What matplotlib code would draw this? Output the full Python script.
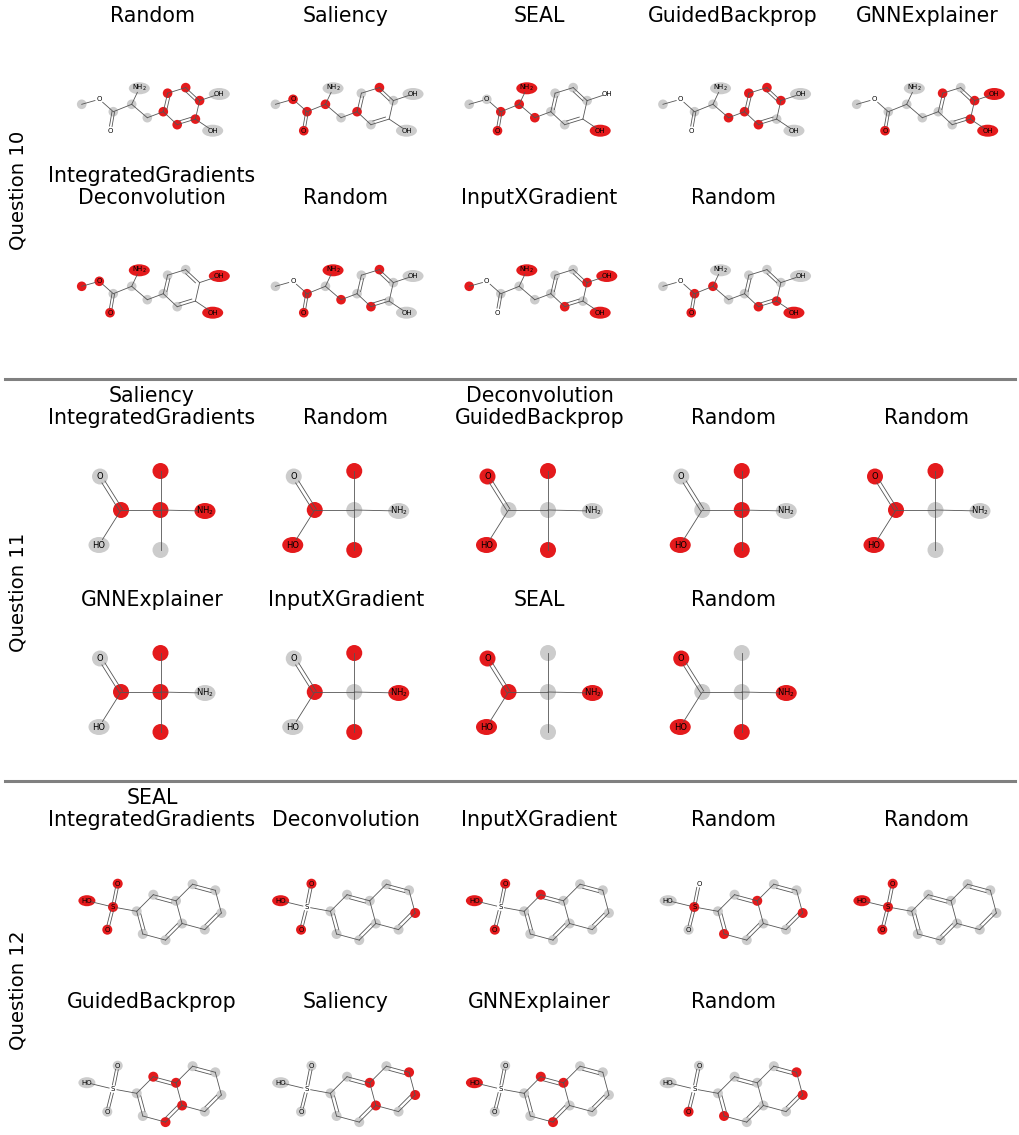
import numpy as np
import matplotlib
matplotlib.use('Agg')
import matplotlib.pyplot as plt
from matplotlib.patches import Circle, Ellipse
from matplotlib.lines import Line2D

W, H = 1020, 1135
RED = '#e41a1c'
GREY = '#cccccc'
BOND = '#555555'

# ---- titles per panel (one list per row) ----
q10_titles_a = ['Random', 'Saliency', 'SEAL', 'GuidedBackprop', 'GNNExplainer']
q10_titles_b = ['IntegratedGradients\nDeconvolution', 'Random', 'InputXGradient', 'Random']
q11_titles_a = ['Saliency\nIntegratedGradients', 'Random', 'Deconvolution\nGuidedBackprop', 'Random', 'Random']
q11_titles_b = ['GNNExplainer', 'InputXGradient', 'SEAL', 'Random']
q12_titles_a = ['SEAL\nIntegratedGradients', 'Deconvolution', 'InputXGradient', 'Random', 'Random']
q12_titles_b = ['GuidedBackprop', 'Saliency', 'GNNExplainer', 'Random']

# ---- atom highlight per panel: r = important, g = low, n = none ----
# Q10 atoms: Me, O, C, O=, Ca, N, Cb, C1, C2, C3, C4, O(H), C5, O(H), C6
q10_marks_a = ['gngngggrrrrgrgr', 'grrrrggrgrggngg', 'ggrrrrrggggnnrg',
               'gngnggrrrrrgggr', 'gngrggggrgrrrrg']
q10_marks_b = ['rrgrgrggggnrnrg', 'gnrrgrrggrggggr', 'rngngrggggrrgrr',
               'gnrrrgggggggrrr']
# Q11 atoms: O=, C, OH, C(central), Me top, Me bottom, NH2
q11_marks_a = ['grgrrgr', 'grrgrrg', 'rgrgrrg', 'ggrrrrg', 'rrrgrgg']
q11_marks_b = ['grgrrrg', 'grggrrr', 'rrrgggr', 'rgrggrr']
# Q12 atoms: HO, S, O top, O bottom, C2, C1, C8a, C4a, C4, C3, C8, C7, C6, C5
q12_marks_a = ['rrrrgggggggggg', 'rnrrggggggggrg', 'rnrrgrgggggggg',
               'grngggrggrggrg', 'rrrrgggggggggg']
q12_marks_b = ['gngggrrrrggggg', 'gnggggrrgggrrg', 'rngggrrgrggggg',
               'gngrgggggrgrrg']

# ---- molecule layouts (pixels, relative to panel centre x and title baseline) ----
mol10 = dict(
    labels=['', 'O', '', 'O', '', 'NH$_2$', '', '', '', '', '', 'OH', '', 'OH', ''],
    xy=[(-70.3, 82.3), (-52.7, 77.3), (-38.7, 89.7), (-42.0, 108.7), (-20.3, 82.3),
        (-12.7, 66.3), (-4.7, 95.7), (11.3, 89.7), (15.6, 71.2), (33.7, 65.6),
        (47.6, 78.6), (67.3, 72.0), (43.4, 97.1), (60.7, 108.7), (25.2, 102.7)],
    bonds=[(0, 1, 1), (1, 2, 1), (2, 3, 2), (2, 4, 1), (4, 5, 1), (4, 6, 1), (6, 7, 1),
           (7, 8, 2), (8, 9, 1), (9, 10, 2), (10, 11, 1), (10, 12, 1), (12, 13, 1),
           (12, 14, 2), (14, 7, 1)],
    rings=[[7, 8, 9, 10, 12, 14]],
    r=4.8, fs=5, ell=(21, 12), gap=4.5, dbl=1.3, inner=3.0)

mol11 = dict(
    labels=['O', '', 'HO', '', '', '', 'NH$_2$'],
    xy=[(-52, 52.5), (-31, 86), (-53, 121), (8.5, 86), (8.5, 47), (8.5, 126), (53, 87)],
    bonds=[(0, 1, 2), (1, 2, 1), (1, 3, 1), (3, 4, 1), (3, 5, 1), (3, 6, 1)],
    rings=[],
    r=8.0, fs=6, ell=(21, 16), gap=6.5, dbl=1.8, inner=3.5)

mol12 = dict(
    labels=['HO', 'S', 'O', 'O', '', '', '', '', '', '', '', '', '', ''],
    xy=[(-65.1, 74.7), (-39, 81), (-34.3, 57.7), (-44.7, 103.7), (-15.3, 85.3),
        (1.3, 68.7), (24.0, 74.8), (30.1, 97.5), (13.5, 114.1), (-9.2, 108.0),
        (40.6, 58.2), (63.3, 64.3), (69.4, 87.0), (52.8, 103.6)],
    bonds=[(0, 1, 1), (1, 2, 2), (1, 3, 2), (1, 4, 1), (4, 5, 1), (5, 6, 2), (6, 7, 1),
           (7, 8, 2), (8, 9, 1), (9, 4, 2), (6, 10, 1), (10, 11, 2), (11, 12, 1),
           (12, 13, 2), (13, 7, 1)],
    rings=[[4, 5, 6, 7, 8, 9], [6, 10, 11, 12, 13, 7]],
    r=5.0, fs=5, ell=(17, 11), gap=4.0, dbl=1.4, inner=3.3)

col_x = [152, 345.75, 539.5, 733.25, 927]


def draw_mol(ax, mol, marks):
    xy = np.array(mol['xy'])
    labels = mol['labels']
    # atom highlights
    for k, m in enumerate(marks):
        if m == 'n':
            continue
        c = RED if m == 'r' else GREY
        lab = labels[k]
        if len(lab) > 1:
            p = Ellipse(xy[k], mol['ell'][0], mol['ell'][1], color=c, lw=0, zorder=1)
        else:
            p = Circle(xy[k], mol['r'], color=c, lw=0, zorder=1)
        ax.add_patch(p)
    # bonds
    for i, j, order in mol['bonds']:
        a, b = xy[i].copy(), xy[j].copy()
        d = (b - a) / np.linalg.norm(b - a)
        if labels[i]:
            a = a + d * mol['gap']
        if labels[j]:
            b = b - d * mol['gap']
        ring = None
        for rg in mol['rings']:
            if i in rg and j in rg:
                ring = rg
        if order == 1:
            ax.plot([a[0], b[0]], [a[1], b[1]], color=BOND, lw=0.6, zorder=2)
        elif ring is None:
            nrm = np.array([-d[1], d[0]]) * mol['dbl']
            for s in (1, -1):
                ax.plot([a[0] + s * nrm[0], b[0] + s * nrm[0]],
                        [a[1] + s * nrm[1], b[1] + s * nrm[1]], color=BOND, lw=0.6, zorder=2)
        else:
            # ring double bond: inner line shifted towards ring centre
            ax.plot([a[0], b[0]], [a[1], b[1]], color=BOND, lw=0.6, zorder=2)
            cen = xy[ring].mean(axis=0)
            nrm = np.array([-d[1], d[0]])
            if np.dot(cen - (a + b) / 2, nrm) < 0:
                nrm = -nrm
            a2 = a + (b - a) * 0.15 + nrm * mol['inner']
            b2 = b - (b - a) * 0.15 + nrm * mol['inner']
            ax.plot([a2[0], b2[0]], [a2[1], b2[1]], color=BOND, lw=0.6, zorder=2)
    # atom labels
    for k, lab in enumerate(labels):
        if lab:
            ax.text(xy[k][0], xy[k][1], lab, ha='center', va='center',
                    fontsize=mol['fs'], color='black', zorder=3)


def panel(fig, cx, base, title, mol, marks):
    ax = fig.add_axes([(cx - 97) / W, 1 - (base + 175) / H, 194 / W, 170 / H])
    ax.set_xlim(-97, 97)
    ax.set_ylim(175, 5)
    ax.axis('off')
    ax.text(0, 0, title, ha='center', va='baseline', fontsize=14.8,
            linespacing=1.12, clip_on=False)
    draw_mol(ax, mol, marks)


fig = plt.figure(figsize=(W / 100, H / 100), dpi=100)

rows = [
    (22, q10_titles_a, q10_marks_a, mol10),
    (204, q10_titles_b, q10_marks_b, mol10),
    (424, q11_titles_a, q11_marks_a, mol11),
    (606, q11_titles_b, q11_marks_b, mol11),
    (826, q12_titles_a, q12_marks_a, mol12),
    (1008, q12_titles_b, q12_marks_b, mol12),
]
for base, titles, marks, mol in rows:
    for k in range(len(titles)):
        panel(fig, col_x[k], base, titles[k], mol, marks[k])

# question labels
for txt, yc in [('Question 10', 190), ('Question 11', 592), ('Question 12', 990)]:
    fig.text(18 / W, 1 - yc / H, txt, rotation=90, ha='center', va='center', fontsize=14.2)

# separators between questions
for yl in [379, 781]:
    fig.add_artist(Line2D([5 / W, 1015 / W], [1 - yl / H, 1 - yl / H],
                          color='#808080', lw=2.2))

fig.savefig('out.png', dpi=100)
